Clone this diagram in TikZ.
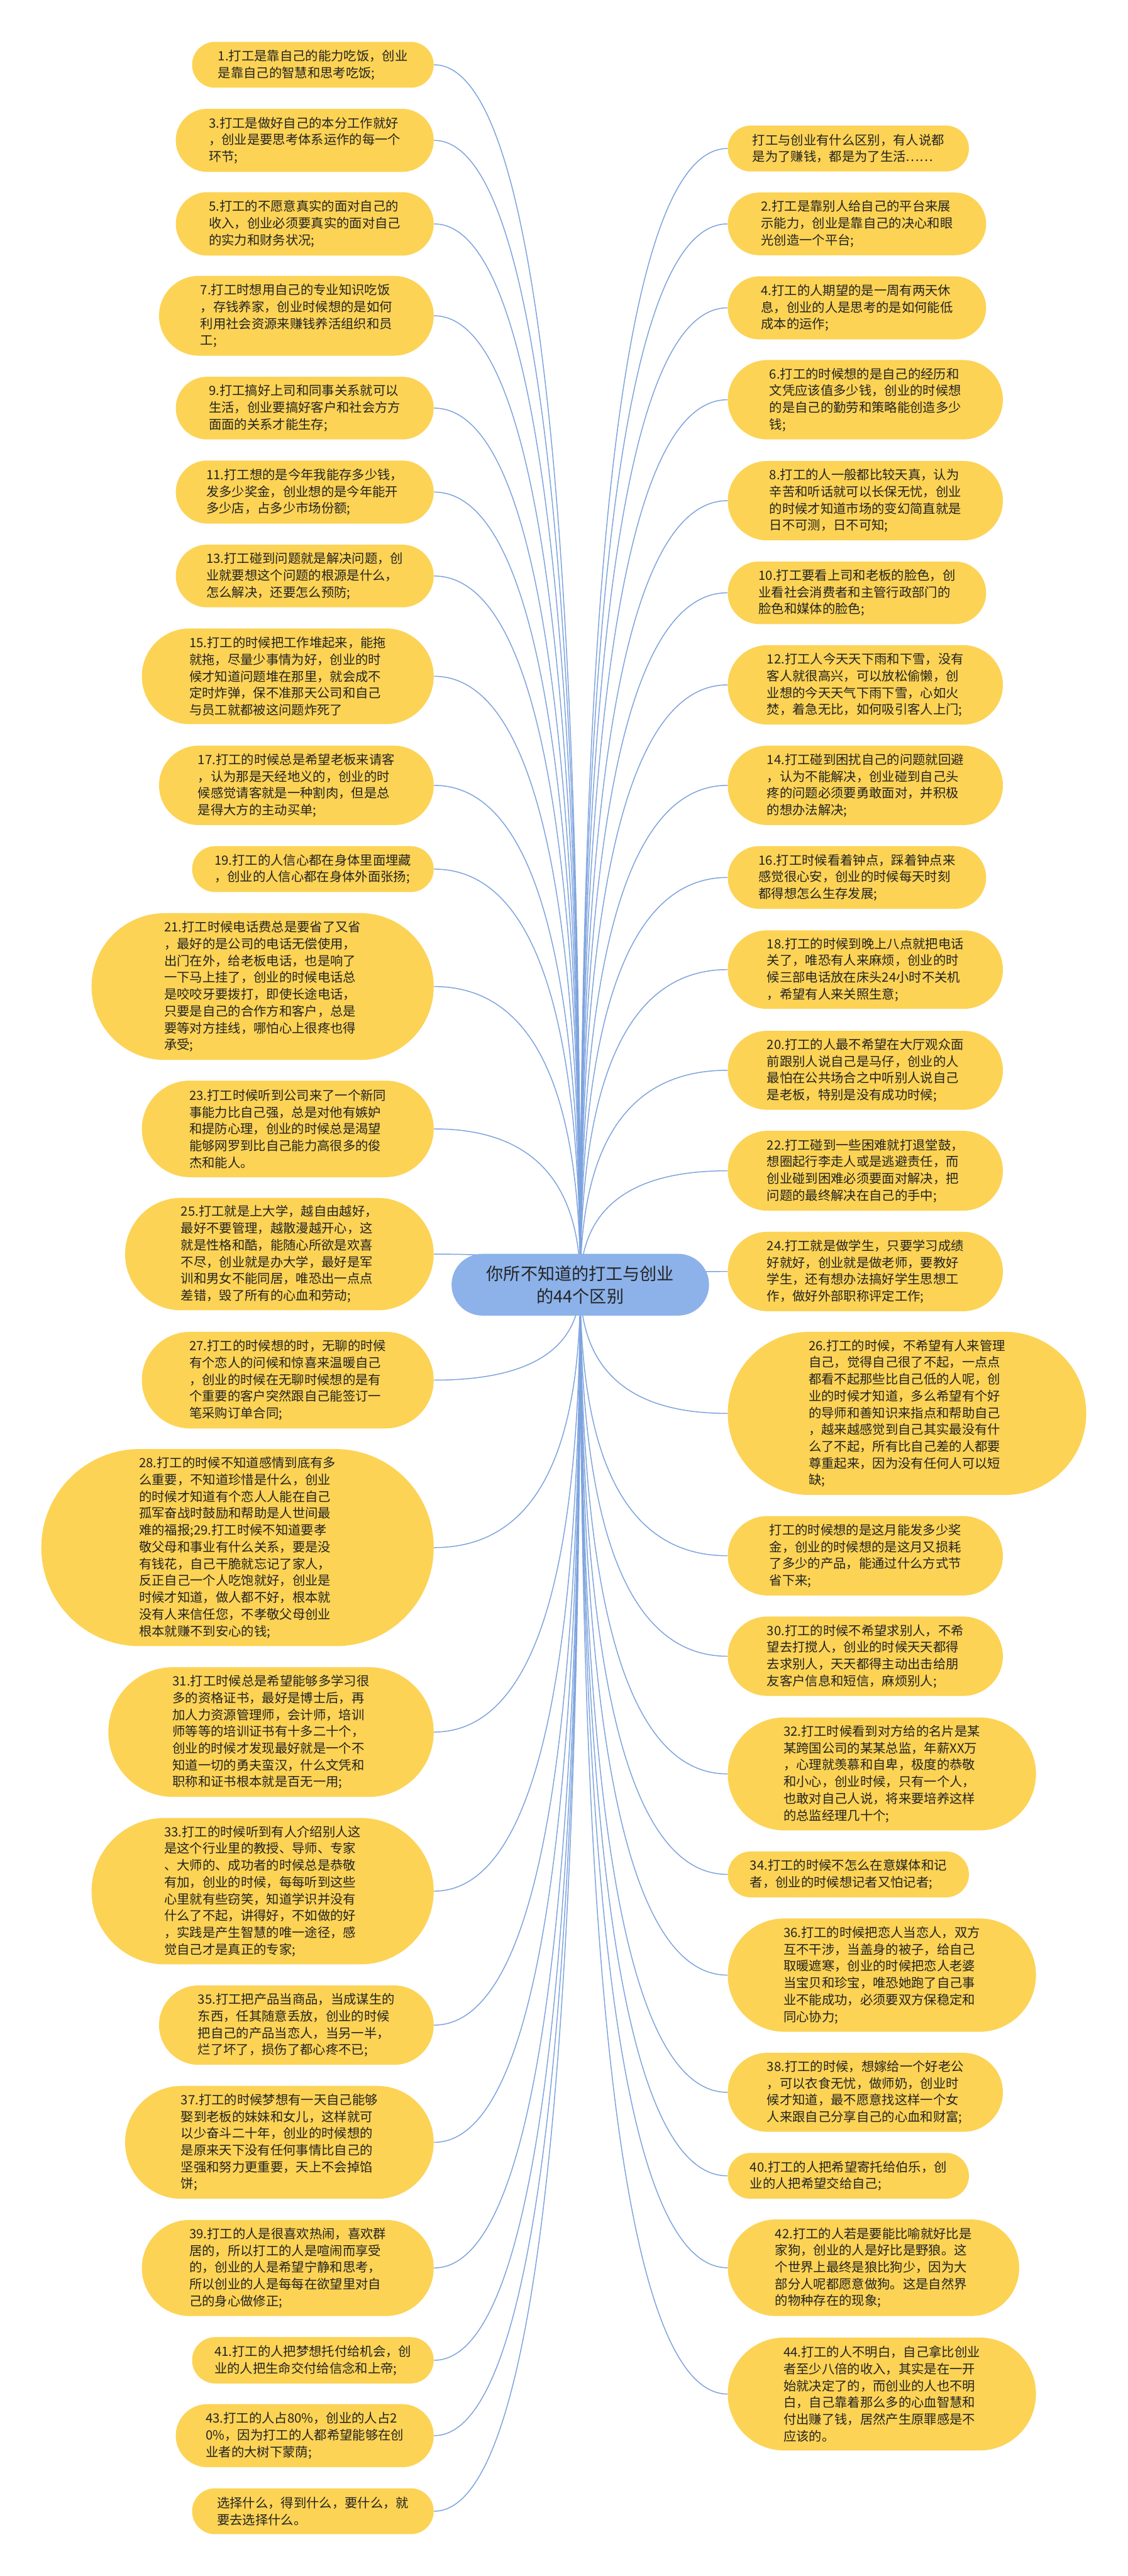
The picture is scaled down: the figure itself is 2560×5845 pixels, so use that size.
\documentclass[tikz,border=0pt]{standalone}
\usepackage{fontspec}
\setmainfont{Noto Sans CJK SC}
\usetikzlibrary{backgrounds,calc}
\definecolor{leafyellow}{RGB}{252,211,85}
\definecolor{hubblue}{RGB}{140,178,233}
\definecolor{linkblue}{RGB}{125,163,222}
\definecolor{ink}{RGB}{35,35,35}
\tikzset{
  leaf/.style={fill=leafyellow, draw=none, inner sep=0pt, align=left, text=ink,
    font={\fontsize{8.25}{10.85}\selectfont}},
  hubnode/.style={fill=hubblue, draw=none, inner sep=0pt, align=center, text=ink,
    font={\fontsize{11}{14.6}\selectfont}},
  link/.style={draw=linkblue, line width=0.6pt}
}
% left node: name, left x, top y, bottom y, text (right edge fixed at 985)
\newcommand\LN[5]{%
  \pgfmathsetmacro\ww{(985-#2)/100}%
  \pgfmathsetmacro\hh{(#4-#3)/100}%
  \pgfmathsetmacro\rr{(#4-#3)/200*0.999}%
  \pgfmathsetmacro\yy{-(#3+#4)/2}%
  \node[leaf, minimum width=\ww cm, minimum height=\hh cm, rounded corners=\rr cm, anchor=east] (#1) at (985,\yy) {#5};}
% right node: name, right x, top y, bottom y, text (left edge fixed at 1651)
\newcommand\RN[5]{%
  \pgfmathsetmacro\ww{(#2-1651)/100}%
  \pgfmathsetmacro\hh{(#4-#3)/100}%
  \pgfmathsetmacro\rr{(#4-#3)/200*0.999}%
  \pgfmathsetmacro\yy{-(#3+#4)/2}%
  \node[leaf, minimum width=\ww cm, minimum height=\hh cm, rounded corners=\rr cm, anchor=west] (#1) at (1651,\yy) {#5};}
\begin{document}
\begin{tikzpicture}[x=0.01cm, y=0.01cm]
\path[use as bounding box] (0,0) rectangle (2560,-5845);

\node[hubnode, minimum width=5.84cm, minimum height=1.40cm, rounded corners=0.699cm] (C) at (1317,-2915) {你所不知道的打工与创业\\的44个区别};

% ---------- left column ----------
\LN{L1}{437}{95}{199}{1.打工是靠自己的能力吃饭，创业\\是靠自己的智慧和思考吃饭;}
\LN{L3}{400}{247}{390}{3.打工是做好自己的本分工作就好\\，创业是要思考体系运作的每一个\\环节;}
\LN{L5}{400}{436}{580}{5.打工的不愿意真实的面对自己的\\收入，创业必须要真实的面对自己\\的实力和财务状况;}
\LN{L7}{362}{626}{807}{7.打工时想用自己的专业知识吃饭\\，存钱养家，创业时候想的是如何\\利用社会资源来赚钱养活组织和员\\工;}
\LN{L9}{400}{855}{997}{9.打工搞好上司和同事关系就可以\\生活，创业要搞好客户和社会方方\\面面的关系才能生存;}
\LN{L11}{400}{1045}{1188}{11.打工想的是今年我能存多少钱，\\发多少奖金，创业想的是今年能开\\多少店，占多少市场份额;}
\LN{L13}{400}{1236}{1378}{13.打工碰到问题就是解决问题，创\\业就要想这个问题的根源是什么，\\怎么解决，还要怎么预防;}
\LN{L15}{323}{1426}{1643}{15.打工的时候把工作堆起来，能拖\\就拖，尽量少事情为好，创业的时\\候才知道问题堆在那里，就会成不\\定时炸弹，保不准那天公司和自己\\与员工就都被这问题炸死了}
\LN{L17}{362}{1692}{1872}{17.打工的时候总是希望老板来请客\\，认为那是天经地义的，创业的时\\候感觉请客就是一种割肉，但是总\\是得大方的主动买单;}
\LN{L19}{437}{1920}{2024}{19.打工的人信心都在身体里面埋藏\\，创业的人信心都在身体外面张扬;}
\LN{L21}{209}{2072}{2405}{21.打工时候电话费总是要省了又省\\，最好的是公司的电话无偿使用，\\出门在外，给老板电话，也是响了\\一下马上挂了，创业的时候电话总\\是咬咬牙要拨打，即使长途电话，\\只要是自己的合作方和客户，总是\\要等对方挂线，哪怕心上很疼也得\\承受;}
\LN{L23}{323}{2452}{2671}{23.打工时候听到公司来了一个新同\\事能力比自己强，总是对他有嫉妒\\和提防心理，创业的时候总是渴望\\能够网罗到比自己能力高很多的俊\\杰和能人。}
\LN{L25}{285}{2718}{2973}{25.打工就是上大学，越自由越好，\\最好不要管理，越散漫越开心，这\\就是性格和酷，能随心所欲是欢喜\\不尽，创业就是办大学，最好是军\\训和男女不能同居，唯恐出一点点\\差错，毁了所有的心血和劳动;}
\LN{L27}{323}{3022}{3241}{27.打工的时候想的时，无聊的时候\\有个恋人的问候和惊喜来温暖自己\\，创业的时候在无聊时候想的是有\\个重要的客户突然跟自己能签订一\\笔采购订单合同;}
\LN{L28}{95}{3288}{3735}{28.打工的时候不知道感情到底有多\\么重要，不知道珍惜是什么，创业\\的时候才知道有个恋人人能在自己\\孤军奋战时鼓励和帮助是人世间最\\难的福报;29.打工时候不知道要孝\\敬父母和事业有什么关系，要是没\\有钱花，自己干脆就忘记了家人，\\反正自己一个人吃饱就好，创业是\\时候才知道，做人都不好，根本就\\没有人来信任您，不孝敬父母创业\\根本就赚不到安心的钱;}
\LN{L31}{247}{3783}{4077}{31.打工时候总是希望能够多学习很\\多的资格证书，最好是博士后，再\\加人力资源管理师，会计师，培训\\师等等的培训证书有十多二十个，\\创业的时候才发现最好就是一个不\\知道一切的勇夫蛮汉，什么文凭和\\职称和证书根本就是百无一用;}
\LN{L33}{209}{4125}{4457}{33.打工的时候听到有人介绍别人这\\是这个行业里的教授、导师、专家\\、大师的、成功者的时候总是恭敬\\有加，创业的时候，每每听到这些\\心里就有些窃笑，知道学识并没有\\什么了不起，讲得好，不如做的好\\，实践是产生智慧的唯一途径，感\\觉自己才是真正的专家;}
\LN{L35}{362}{4505}{4685}{35.打工把产品当商品，当成谋生的\\东西，任其随意丢放，创业的时候\\把自己的产品当恋人，当另一半，\\烂了坏了，损伤了都心疼不已;}
\LN{L37}{285}{4733}{4989}{37.打工的时候梦想有一天自己能够\\娶到老板的妹妹和女儿，这样就可\\以少奋斗二十年，创业的时候想的\\是原来天下没有任何事情比自己的\\坚强和努力更重要，天上不会掉馅\\饼;}
\LN{L39}{323}{5037}{5255}{39.打工的人是很喜欢热闹，喜欢群\\居的，所以打工的人是喧闹而享受\\的，创业的人是希望宁静和思考，\\所以创业的人是每每在欲望里对自\\己的身心做修正;}
\LN{L41}{437}{5303}{5408}{41.打工的人把梦想托付给机会，创\\业的人把生命交付给信念和上帝;}
\LN{L43}{400}{5455}{5598}{43.打工的人占80\%，创业的人占2\\0\%，因为打工的人都希望能够在创\\业者的大树下蒙荫;}
\LN{L45}{437}{5646}{5750}{选择什么，得到什么，要什么，就\\要去选择什么。}

% ---------- right column ----------
\RN{R0}{2198}{285}{389}{打工与创业有什么区别，有人说都\\是为了赚钱，都是为了生活……}
\RN{R2}{2237}{437}{579}{2.打工是靠别人给自己的平台来展\\示能力，创业是靠自己的决心和眼\\光创造一个平台;}
\RN{R4}{2237}{627}{770}{4.打工的人期望的是一周有两天休\\息，创业的人是思考的是如何能低\\成本的运作;}
\RN{R6}{2275}{817}{997}{6.打工的时候想的是自己的经历和\\文凭应该值多少钱，创业的时候想\\的是自己的勤劳和策略能创造多少\\钱;}
\RN{R8}{2275}{1046}{1226}{8.打工的人一般都比较天真，认为\\辛苦和听话就可以长保无忧，创业\\的时候才知道市场的变幻简直就是\\日不可测，日不可知;}
\RN{R10}{2237}{1274}{1416}{10.打工要看上司和老板的脸色，创\\业看社会消费者和主管行政部门的\\脸色和媒体的脸色;}
\RN{R12}{2275}{1464}{1644}{12.打工人今天天下雨和下雪，没有\\客人就很高兴，可以放松偷懒，创\\业想的今天天气下雨下雪，心如火\\焚，着急无比，如何吸引客人上门;}
\RN{R14}{2275}{1692}{1872}{14.打工碰到困扰自己的问题就回避\\，认为不能解决，创业碰到自己头\\疼的问题必须要勇敢面对，并积极\\的想办法解决;}
\RN{R16}{2237}{1920}{2062}{16.打工时候看着钟点，踩着钟点来\\感觉很心安，创业的时候每天时刻\\都得想怎么生存发展;}
\RN{R18}{2275}{2111}{2289}{18.打工的时候到晚上八点就把电话\\关了，唯恐有人来麻烦，创业的时\\候三部电话放在床头24小时不关机\\，希望有人来关照生意;}
\RN{R20}{2275}{2339}{2518}{20.打工的人最不希望在大厅观众面\\前跟别人说自己是马仔，创业的人\\最怕在公共场合之中听别人说自己\\是老板，特别是没有成功时候;}
\RN{R22}{2275}{2566}{2747}{22.打工碰到一些困难就打退堂鼓，\\想圈起行李走人或是逃避责任，而\\创业碰到困难必须要面对解决，把\\问题的最终解决在自己的手中;}
\RN{R24}{2275}{2795}{2975}{24.打工就是做学生，只要学习成绩\\好就好，创业就是做老师，要教好\\学生，还有想办法搞好学生思想工\\作，做好外部职称评定工作;}
\RN{R26}{2464}{3022}{3392}{26.打工的时候，不希望有人来管理\\自己，觉得自己很了不起，一点点\\都看不起那些比自己低的人呢，创\\业的时候才知道，多么希望有个好\\的导师和善知识来指点和帮助自己\\，越来越感觉到自己其实最没有什\\么了不起，所有比自己差的人都要\\尊重起来，因为没有任何人可以短\\缺;}
\RN{R28}{2275}{3440}{3620}{打工的时候想的是这月能发多少奖\\金，创业的时候想的是这月又损耗\\了多少的产品，能通过什么方式节\\省下来;}
\RN{R30}{2275}{3668}{3848}{30.打工的时候不希望求别人，不希\\望去打搅人，创业的时候天天都得\\去求别人，天天都得主动出击给朋\\友客户信息和短信，麻烦别人;}
\RN{R32}{2350}{3897}{4153}{32.打工时候看到对方给的名片是某\\某跨国公司的某某总监，年薪XX万\\，心理就羡慕和自卑，极度的恭敬\\和小心，创业时候，只有一个人，\\也敢对自己人说，将来要培养这样\\的总监经理几十个;}
\RN{R34}{2198}{4201}{4305}{34.打工的时候不怎么在意媒体和记\\者，创业的时候想记者又怕记者;}
\RN{R36}{2350}{4353}{4610}{36.打工的时候把恋人当恋人，双方\\互不干涉，当盖身的被子，给自己\\取暖遮寒，创业的时候把恋人老婆\\当宝贝和珍宝，唯恐她跑了自己事\\业不能成功，必须要双方保稳定和\\同心协力;}
\RN{R38}{2275}{4658}{4837}{38.打工的时候，想嫁给一个好老公\\，可以衣食无忧，做师奶，创业时\\候才知道，最不愿意找这样一个女\\人来跟自己分享自己的心血和财富;}
\RN{R40}{2198}{4885}{4989}{40.打工的人把希望寄托给伯乐，创\\业的人把希望交给自己;}
\RN{R42}{2312}{5036}{5255}{42.打工的人若是要能比喻就好比是\\家狗，创业的人是好比是野狼。这\\个世界上最终是狼比狗少，因为大\\部分人呢都愿意做狗。这是自然界\\的物种存在的现象;}
\RN{R44}{2350}{5304}{5560}{44.打工的人不明白，自己拿比创业\\者至少八倍的收入，其实是在一开\\始就决定了的，而创业的人也不明\\白，自己靠着那么多的心血智慧和\\付出赚了钱，居然产生原罪感是不\\应该的。}

\begin{scope}[on background layer]
  \fill[white] (0,0) rectangle (2560,-5845);
  \foreach \n in {L1,L3,L5,L7,L9,L11,L13,L15,L17,L19,L21,L23,L25,L27,L28,L31,L33,L35,L37,L39,L41,L43,L45}
    \draw[link] (C.center) .. controls ($(C.center)!2/3!(C.center |- \n.east)$) and ($(\n.east)!2/3!(C.center |- \n.east)$) .. (\n.east);
  \foreach \n in {R0,R2,R4,R6,R8,R10,R12,R14,R16,R18,R20,R22,R24,R26,R28,R30,R32,R34,R36,R38,R40,R42,R44}
    \draw[link] (C.center) .. controls ($(C.center)!2/3!(C.center |- \n.west)$) and ($(\n.west)!2/3!(C.center |- \n.west)$) .. (\n.west);
\end{scope}
\end{tikzpicture}
\end{document}
